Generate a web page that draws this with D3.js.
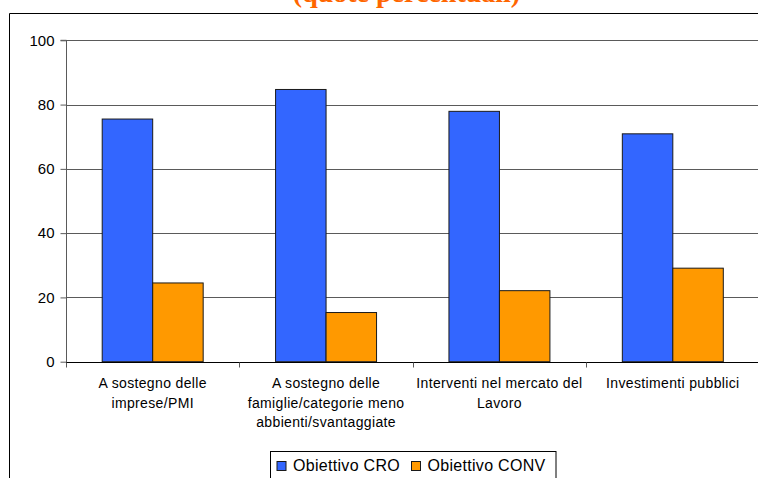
<!DOCTYPE html>
<html>
<head>
<meta charset="utf-8">
<script src="https://cdn.jsdelivr.net/npm/d3@7"></script>
<style>
html,body{margin:0;padding:0;background:#fff;}
svg{display:block;}
text{font-family:"Liberation Sans", Arial, sans-serif;}
</style>
</head>
<body>
<svg id="chart" width="758" height="478"></svg>
<script>
const categories = [
  ["A sostegno delle", "imprese/PMI"],
  ["A sostegno delle", "famiglie/categorie meno", "abbienti/svantaggiate"],
  ["Interventi nel mercato del", "Lavoro"],
  ["Investimenti pubblici"]
];
const seriesNames = ["Obiettivo CRO", "Obiettivo CONV"];
const croValues = [75.5, 84.7, 77.9, 70.9];
const convValues = [24.5, 15.3, 22.1, 29.1];
const yTicks = [0, 20, 40, 60, 80, 100];
const colors = ["#3366FF", "#FF9900"];
const title = "(quote percentuali)";

(function () {
const svg = d3.select("#chart");

// outer frame
svg.append("path")
  .attr("d", "M9.5,480 L9.5,13.5 L760,13.5")
  .attr("fill", "none").attr("stroke", "#000").attr("stroke-width", 1);

// title (cropped at top, as in the reference)
svg.append("text")
  .attr("x", 406.5).attr("y", 2)
  .attr("text-anchor", "middle")
  .style("font-family", "'Liberation Serif', 'Times New Roman', serif")
  .style("font-weight", "bold")
  .style("font-size", "28px")
  .attr("fill", "#FF6600")
  .text(title);

const pLeft = 66, pRight = 759.5, pTop = 40.3, pBottom = 361.7;
const catIdx = categories.map((d, i) => i);
const x0 = d3.scaleBand().domain(catIdx).range([pLeft, pRight]).padding(0);
const x1 = d3.scaleBand().domain([0, 1]).range([0, x0.bandwidth()]).paddingInner(0).paddingOuter(0.717);
const y = d3.scaleLinear().domain([0, 100]).range([pBottom, pTop]);

// gridlines
svg.append("g").selectAll("line").data(yTicks.filter(t => t > 0)).join("line")
  .attr("x1", pLeft).attr("x2", 758)
  .attr("y1", d => Math.round(y(d)) + 0.5).attr("y2", d => Math.round(y(d)) + 0.5)
  .attr("stroke", "#5a5a5a").attr("stroke-width", 1);

// y axis
const yAxis = d3.axisLeft(y).tickValues(yTicks).tickSize(6).tickPadding(6).tickFormat(d3.format("d"));
const gy = svg.append("g").attr("transform", `translate(${pLeft + 0.5},0)`).call(yAxis);
gy.select(".domain").attr("stroke", "#5a5a5a").attr("d", `M-6,${y(100)}H0V${pBottom + 4}`);
gy.selectAll(".tick line").attr("stroke", "#5a5a5a");
gy.selectAll(".tick text").style("font-size", "15px").attr("fill", "#000")
  .style("font-family", "'Liberation Sans', Arial, sans-serif");

// bars
const groups = svg.append("g").selectAll("g").data(catIdx).join("g")
  .attr("transform", d => `translate(${x0(d)},0)`);
groups.selectAll("rect").data(i => [croValues[i], convValues[i]]).join("rect")
  .attr("x", (d, j) => x1(j))
  .attr("width", x1.bandwidth())
  .attr("y", d => y(d))
  .attr("height", d => pBottom - y(d))
  .attr("fill", (d, j) => colors[j])
  .attr("stroke", "#1a1a1a").attr("stroke-width", 1);

// x axis
const xAxis = d3.axisBottom(x0).tickSize(0).tickFormat("");
const gx = svg.append("g").attr("transform", `translate(0,${Math.round(pBottom) + 0.5})`).call(xAxis);
gx.select(".domain").attr("stroke", "#000").attr("d", `M${pLeft},0H758`);
gx.selectAll(".tick").remove();
gx.selectAll("line.sep").data(catIdx).join("line").attr("class", "sep")
  .attr("x1", d => Math.round(x0(d)) + 0.5).attr("x2", d => Math.round(x0(d)) + 0.5)
  .attr("y1", 0).attr("y2", 5).attr("stroke", "#5a5a5a");

// category labels
const lab = svg.append("g").selectAll("text").data(catIdx).join("text")
  .attr("x", d => x0(d) + x0.bandwidth() / 2)
  .attr("y", 388.3)
  .attr("text-anchor", "middle")
  .style("font-size", "14px")
  .style("letter-spacing", "0.35px")
  .attr("fill", "#000");
lab.selectAll("tspan").data(d => categories[d]).join("tspan")
  .attr("x", function () { return d3.select(this.parentNode).attr("x"); })
  .attr("dy", (d, k) => k === 0 ? 0 : 19.5)
  .text(d => d);

// legend
const lg = svg.append("g");
lg.append("rect").attr("x", 270.5).attr("y", 451.5).attr("width", 285.5).attr("height", 40)
  .attr("fill", "#fff").attr("stroke", "#000").attr("stroke-width", 1);
const legendX = [276.5, 411];
const item = lg.selectAll("g").data(seriesNames).join("g")
  .attr("transform", (d, i) => `translate(${legendX[i]},0)`);
item.append("rect").attr("x", 0.5).attr("y", 461.5).attr("width", 9).attr("height", 9)
  .attr("fill", (d, i) => colors[i]).attr("stroke", "#1a1a1a");
item.append("text").attr("x", 16.5).attr("y", 471)
  .style("font-size", "16px").style("letter-spacing", "0.3px")
  .attr("fill", "#000").text(d => d);
})();
</script>
</body>
</html>
